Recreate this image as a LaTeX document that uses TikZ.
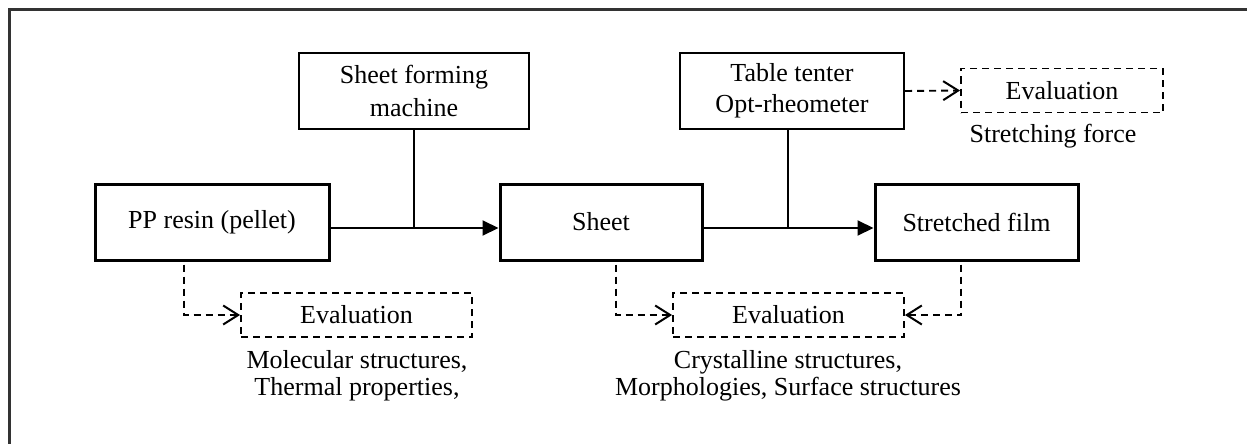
\documentclass[tikz,border=0pt]{standalone}
\usepackage{fontspec}
\setmainfont{Liberation Serif}
\usetikzlibrary{arrows.meta}
\begin{document}
\begin{tikzpicture}[x=1pt,y=-1pt,
  font=\fontsize{26}{31}\selectfont,
  mainbox/.style={draw, line width=3pt, minimum width=#1, minimum height=76pt, inner sep=0pt},
  toolbox/.style={draw, line width=2pt, minimum width=#1, minimum height=76pt, inner sep=0pt, align=center},
  evalbox/.style={draw, line width=1.9pt, dash pattern=on 7pt off 5pt, minimum width=#1, minimum height=44pt, inner sep=0pt},
  lbl/.style={inner sep=0pt, align=center},
  conn/.style={line width=2pt, -{Triangle[length=16pt,width=15pt]}},
  plain/.style={line width=2pt},
  dconn/.style={line width=1.9pt, dash pattern=on 7pt off 5pt, -{Straight Barb[length=15pt,width=19pt,line width=2pt]}},
  frame/.style={line width=2.5pt, draw=black!80}
]
\useasboundingbox (0,0) rectangle (1247,444);
\draw[frame] (9.5,470) -- (9.5,9.5) -- (1270,9.5);

% main flow
\node[mainbox=234pt] (pp) at (212,222) {PP resin (pellet)};
\node[mainbox=202pt] (sheet) at (601,222) {Sheet};
\node[mainbox=203pt] (film) at (976.5,222) {Stretched film};

% tools
\node[toolbox=230pt, font=\fontsize{26}{33}\selectfont] (sfm) at (414,91) {Sheet forming\\machine};
\node[toolbox=224pt, minimum height=75pt] (tt) at (792,91) {Table tenter\\Opt-rheometer};

% evaluations
\node[evalbox=202pt] (ev3) at (1062,90.5) {Evaluation};
\node[evalbox=231pt] (ev1) at (356.5,315) {Evaluation};
\node[evalbox=231pt] (ev2) at (788.5,315) {Evaluation};

% labels
\node[lbl] (l3) at (1053,136) {Stretching force};
\node[lbl, anchor=north, font=\fontsize{26}{27}\selectfont] (l1) at (357,350) {Molecular structures,\\Thermal properties,};
\node[lbl, anchor=north, font=\fontsize{26}{27}\selectfont] (l2) at (788,350) {Crystalline structures,\\Morphologies, Surface structures};

% junction points
\coordinate (ja) at ([yshift=-6pt]pp.east);
\coordinate (jb) at ([yshift=-6pt]sheet.west);
\coordinate (jc) at ([yshift=-6pt]sheet.east);
\coordinate (jd) at ([yshift=-6pt]film.west);
\coordinate (te) at ([xshift=-4pt]tt.south);

% connectors
\draw[conn] (ja) -- (jb);
\draw[conn] (jc) -- (jd);
\draw[plain] (sfm.south) -- (sfm.south |- ja);
\draw[plain] (te) -- (te |- jc);

\draw[dconn] (tt.east) -- (ev3.west);
\draw[dconn] ([xshift=-28pt,yshift=-3pt]pp.south) |- (ev1.west);
\draw[dconn] ([xshift=15pt,yshift=-3pt]sheet.south) |- (ev2.west);
\draw[dconn] ([xshift=-15.5pt,yshift=-3pt]film.south) |- (ev2.east);
\end{tikzpicture}
\end{document}
